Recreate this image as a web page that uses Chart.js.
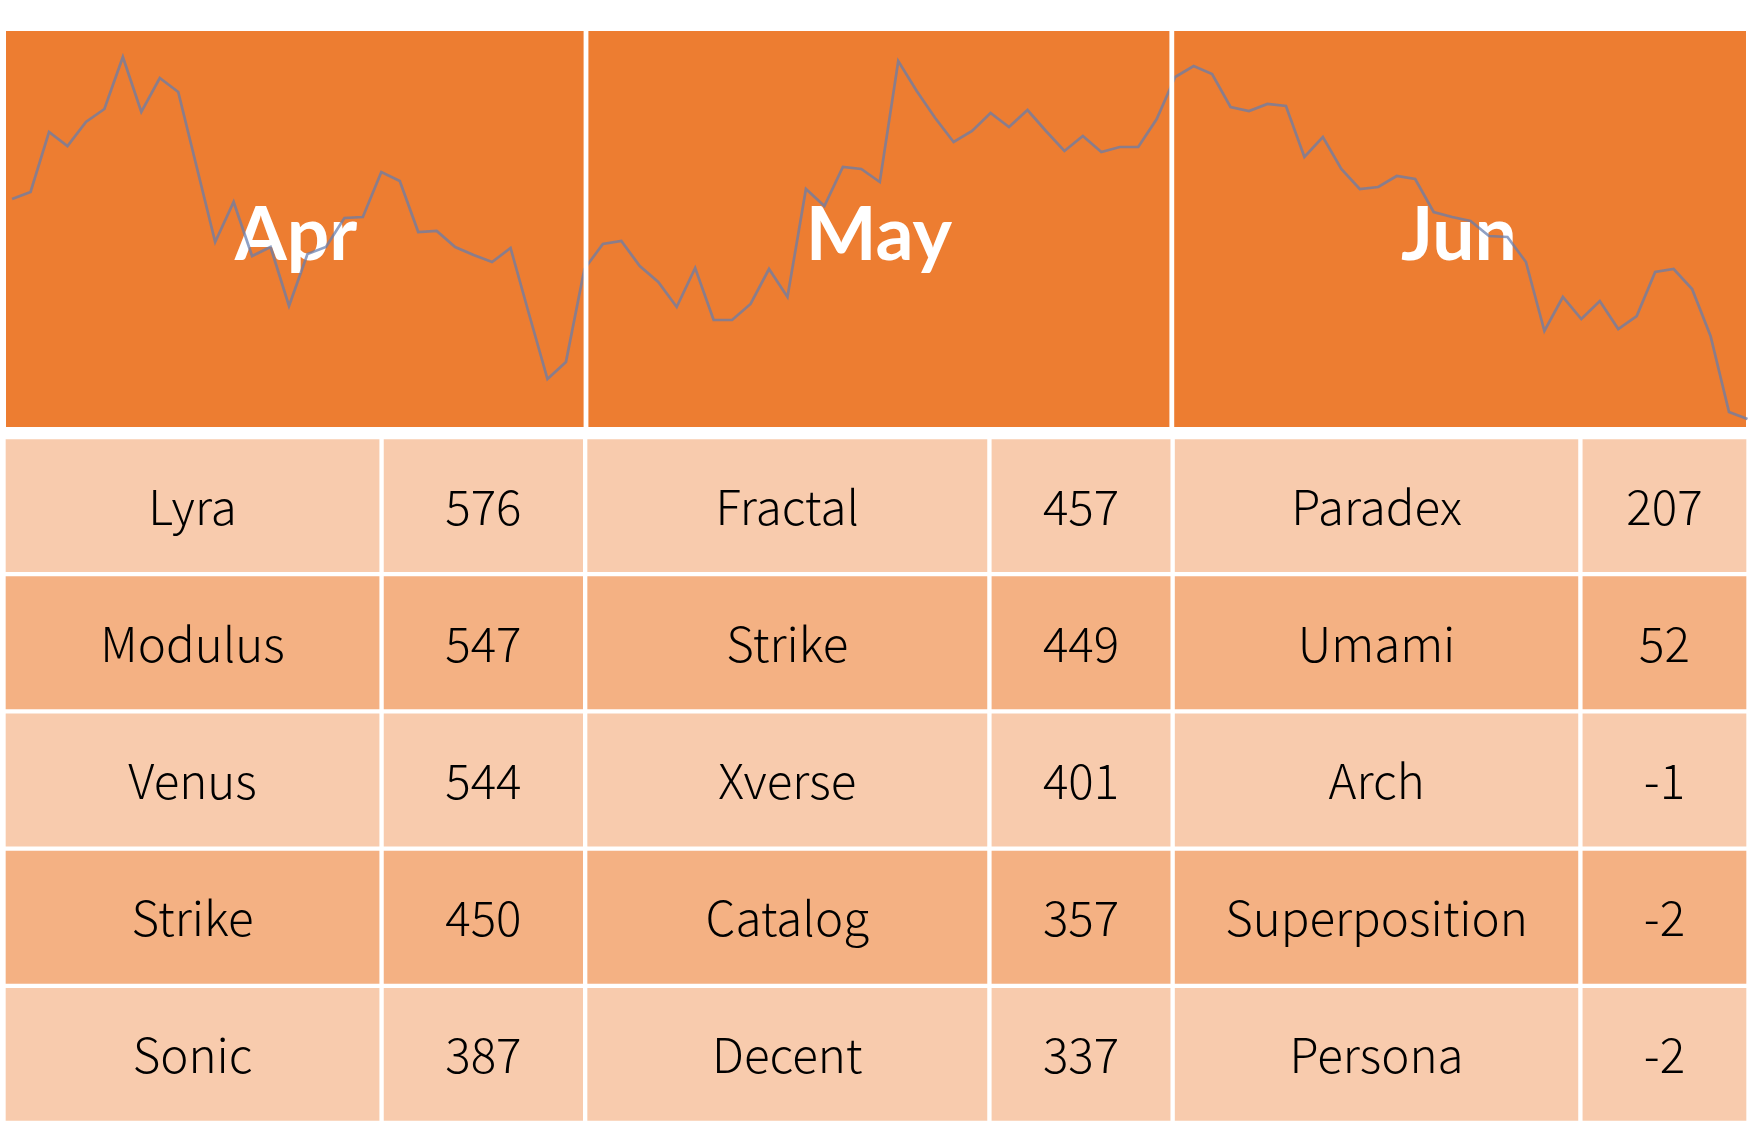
<!DOCTYPE html>
<html>
<head>
<meta charset="utf-8">
<script src="https://cdn.jsdelivr.net/npm/chart.js@4.4.1/dist/chart.umd.min.js"></script>
<style>
  html, body { margin: 0; padding: 0; background: #ffffff; }
  body { width: 1758px; height: 1130px; position: relative; overflow: hidden; }
  #headWrap { position: absolute; left: 0; top: 31px; width: 1758px; height: 396px; }
  #tableWrap { position: absolute; left: 0; top: 434px; width: 1758px; height: 696px; }
</style>
</head>
<body>
<div id="headWrap"><canvas id="headChart"></canvas></div>
<div id="tableWrap"><canvas id="tableChart"></canvas></div>
<script>
// ---------------- DATA ----------------
const monthLabels = ['Apr', 'May', 'Jun'];

// continuous trend line drawn across the three month panels
const trendValues = [
  228, 235, 295, 281, 305, 318, 370, 315, 349, 335,
  260, 185, 225, 171, 180, 121, 173, 180, 209, 210,
  255, 246, 195, 196, 180, 172, 165, 179, 113, 48,
  65, 158, 183, 186, 161, 145, 120, 159, 107, 107,
  123, 158, 130, 238, 221, 260, 258, 245, 366, 336,
  309, 285, 296, 314, 300, 317, 296, 276, 291, 275,
  280, 280, 308, 350, 361, 353, 320, 316, 323, 321,
  270, 290, 258, 238, 240, 251, 248, 215, 210, 206,
  191, 190, 165, 96, 130, 108, 126, 98, 111, 155,
  158, 138, 91, 15, 8
];

const rankLabels = ['1', '2', '3', '4', '5'];

const aprNames  = ['Lyra', 'Modulus', 'Venus', 'Strike', 'Sonic'];
const aprValues = [576, 547, 544, 450, 387];
const mayNames  = ['Fractal', 'Strike', 'Xverse', 'Catalog', 'Decent'];
const mayValues = [457, 449, 401, 357, 337];
const junNames  = ['Paradex', 'Umami', 'Arch', 'Superposition', 'Persona'];
const junValues = [207, 52, -1, -2, -2];

// ---------------- STYLE / LAYOUT ----------------
const ORANGE = '#ED7D31';
const ROW_LIGHT = '#F8CBAD';
const ROW_DARK = '#F4B183';
const LINE_COLOR = 'rgba(100,125,175,0.72)';
// column layout in "panel" units (0..3): month column edges and the end of each name cell
const panelEdges = [0, 1.0, 2.01, 3];
const nameEnds = [0.65, 1.695, 2.711];

const monthNames = [aprNames, mayNames, junNames];
const monthValues = [aprValues, mayValues, junValues];

function build() {
  // ---------- header sparkline chart ----------
  const panelPlugin = {
    id: 'panels',
    beforeDatasetsDraw(chart) {
      const ps = chart.scales.panel;
      const ca = chart.chartArea;
      const ctx = chart.ctx;
      ctx.save();
      monthLabels.forEach((m, i) => {
        const l = ps.getPixelForValue(panelEdges[i]);
        const r = ps.getPixelForValue(panelEdges[i + 1]);
        ctx.fillStyle = ORANGE;
        ctx.fillRect(l, ca.top, r - l, ca.bottom - ca.top);
      });
      ctx.fillStyle = '#ffffff';
      ctx.font = 'bold 75px Lato, "Open Sans", sans-serif';
      ctx.textAlign = 'center';
      ctx.textBaseline = 'alphabetic';
      const midY = (ca.top + ca.bottom) / 2;
      monthLabels.forEach((m, i) => {
        const c = ps.getPixelForValue((panelEdges[i] + panelEdges[i + 1]) / 2);
        ctx.fillText(m, c, midY + 31);
      });
      ctx.restore();
    },
    afterDatasetsDraw(chart) {
      const ps = chart.scales.panel;
      const ca = chart.chartArea;
      const ctx = chart.ctx;
      ctx.save();
      ctx.fillStyle = '#ffffff';
      for (let i = 1; i < panelEdges.length - 1; i++) {
        const edge = ps.getPixelForValue(panelEdges[i]);
        ctx.fillRect(edge - 2.4, ca.top, 4.8, ca.bottom - ca.top);
      }
      ctx.restore();
    }
  };

  new Chart(document.getElementById('headChart'), {
    type: 'line',
    data: {
      datasets: [{
        data: trendValues.map((v, i) => ({ x: i, y: v })),
        borderColor: LINE_COLOR,
        borderWidth: 2.7,
        pointRadius: 0,
        tension: 0,
        fill: false,
        clip: 4
      }]
    },
    options: {
      responsive: true,
      maintainAspectRatio: false,
      animation: false,
      layout: { padding: { left: 6, right: 12, top: 0, bottom: 0 } },
      plugins: { legend: { display: false }, tooltip: { enabled: false } },
      scales: {
        x: { type: 'linear', min: -0.33, max: trendValues.length - 1 - 0.08, display: false },
        y: { type: 'linear', min: 0, max: 396, display: false },
        panel: { type: 'linear', axis: 'x', min: 0, max: monthLabels.length, display: false }
      }
    },
    plugins: [panelPlugin]
  });

  // ---------- table chart (cells are floating bars) ----------
  const datasets = [];
  monthLabels.forEach((m, mi) => {
    const split = nameEnds[mi];
    datasets.push({
      label: m + ' name',
      kind: 'name', month: mi,
      data: rankLabels.map(() => [panelEdges[mi], split])
    });
    datasets.push({
      label: m + ' value',
      kind: 'value', month: mi,
      data: rankLabels.map(() => [split, panelEdges[mi + 1]])
    });
  });
  datasets.forEach(ds => {
    ds.backgroundColor = (c) => (c.dataIndex % 2 === 0 ? ROW_LIGHT : ROW_DARK);
    ds.borderColor = '#ffffff';
    ds.borderWidth = 2.5;
    ds.borderSkipped = false;
    ds.grouped = false;
    ds.barPercentage = 1;
    ds.categoryPercentage = 1;
  });

  const cellTextPlugin = {
    id: 'cellText',
    afterDatasetsDraw(chart) {
      const ctx = chart.ctx;
      ctx.save();
      ctx.fillStyle = '#000000';
      ctx.font = '300 47.5px "Noto Sans CJK SC", "Noto Sans", sans-serif';
      ctx.textAlign = 'center';
      ctx.textBaseline = 'middle';
      chart.data.datasets.forEach((ds, di) => {
        const meta = chart.getDatasetMeta(di);
        meta.data.forEach((bar, r) => {
          const txt = ds.kind === 'name'
            ? monthNames[ds.month][r]
            : String(monthValues[ds.month][r]);
          const cx = (bar.x + bar.base) / 2;
          ctx.fillText(txt, cx, bar.y + 1);
        });
      });
      ctx.restore();
    }
  };

  new Chart(document.getElementById('tableChart'), {
    type: 'bar',
    data: { labels: rankLabels, datasets },
    options: {
      indexAxis: 'y',
      responsive: true,
      maintainAspectRatio: false,
      animation: false,
      layout: { padding: { left: 3.5, right: 9.5, top: 3, bottom: 7 } },
      plugins: { legend: { display: false }, tooltip: { enabled: false } },
      scales: {
        x: { type: 'linear', min: 0, max: monthLabels.length, display: false },
        y: { type: 'category', offset: true, display: false }
      }
    },
    plugins: [cellTextPlugin]
  });
}

const fontLoads = [
  document.fonts.load('bold 75px Lato'),
  document.fonts.load('300 47.5px "Noto Sans CJK SC"'),
  document.fonts.load('47.5px "Noto Sans CJK SC"')
];
Promise.race([
  Promise.all(fontLoads),
  new Promise(res => setTimeout(res, 1500))
]).then(build, build);
</script>
</body>
</html>
